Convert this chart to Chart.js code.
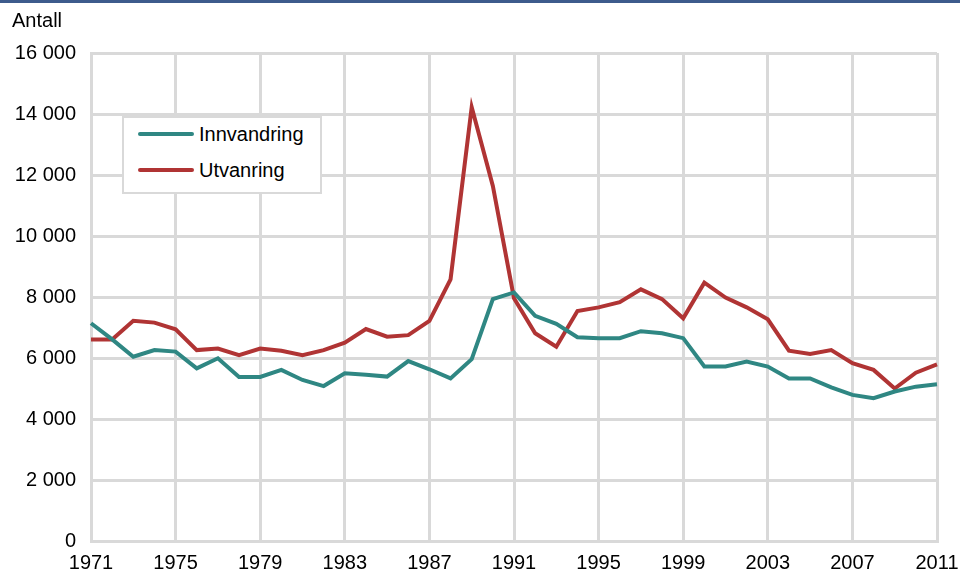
<!DOCTYPE html>
<html>
<head>
<meta charset="utf-8">
<script src="https://cdn.jsdelivr.net/npm/chart.js@4"></script>
<style>
  html, body { margin: 0; padding: 0; background: #fff; }
  #wrap { position: relative; width: 960px; height: 575px; }
  #legend {
    position: absolute; left: 122px; top: 116px; width: 196px; height: 74px;
    border: 2px solid #d9d9d9; background: #fff;
    font-family: "Liberation Sans", Arial, sans-serif; font-size: 20px; color: #000;
  }
  .item { position: absolute; left: 14px; height: 24px; display: flex; align-items: center; }
  .swatch { width: 56px; height: 4px; border-radius: 2px; margin-right: 5px; }
</style>
</head>
<body>
<div id="wrap">
  <canvas id="chartCanvas" width="960" height="575"></canvas>
  <div id="legend">
    <div class="item" style="top:4px"><span class="swatch" style="background:#2f8783"></span>Innvandring</div>
    <div class="item" style="top:40px"><span class="swatch" style="background:#b03434"></span>Utvanring</div>
  </div>
</div>
<script>
const years = [];
for (let y = 1971; y <= 2011; y++) years.push(String(y));

const innvandring = [
  7140, 6610, 6040, 6260, 6210, 5660, 5990, 5380, 5380, 5610,
  5280, 5080, 5500, 5450, 5390, 5900, 5630, 5330, 5960, 7930,
  8150, 7380, 7120, 6680, 6650, 6650, 6880, 6810, 6650, 5720,
  5720, 5880, 5720, 5330, 5330, 5040, 4790, 4680, 4900, 5060,
  5140
];

const utvandring = [
  6610, 6610, 7220, 7160, 6940, 6260, 6310, 6090, 6310, 6240,
  6090, 6260, 6500, 6950, 6700, 6750, 7220, 8580, 14220, 11640,
  7960, 6810, 6370, 7540, 7660, 7830, 8250, 7930, 7300, 8470,
  7980, 7660, 7270, 6240, 6130, 6260, 5830, 5610, 5000, 5520,
  5790
];

const yTicks = { min: 0, max: 16000, step: 2000 };

const gridColor = '#d9d9d9';
const font = { family: '"Liberation Sans", Arial, sans-serif', size: 20 };

const frame = {
    id: 'frame',
    beforeDraw(chart) {
        const ctx = chart.ctx;
        ctx.save();
        ctx.fillStyle = '#3d5b8c';
        ctx.fillRect(0, 0, chart.width, 3);
        ctx.fillStyle = '#000';
        ctx.font = '20px "Liberation Sans", Arial, sans-serif';
        ctx.textBaseline = 'middle';
        ctx.fillText('Antall', 12, 21);
        ctx.restore();
    }
};

new Chart(document.getElementById('chartCanvas'), {
    type: 'line',
    data: {
        labels: years,
        datasets: [
            { label: 'Innvandring', data: innvandring, borderColor: '#2f8783', borderWidth: 4, pointRadius: 0, tension: 0 },
            { label: 'Utvanring', data: utvandring, borderColor: '#b03434', borderWidth: 4, pointRadius: 0, tension: 0 }
        ]
    },
    options: {
        responsive: false,
        animation: false,
        layout: { padding: { top: 53, right: 23, bottom: 0, left: 0 } },
        plugins: { legend: { display: false }, tooltip: { enabled: false } },
        scales: {
            x: {
                offset: false,
                afterFit: (s) => { s.height = 34; s.paddingLeft = 0; s.paddingRight = 0; },
                grid: { color: gridColor, lineWidth: 3, tickLength: 0 },
                border: { color: gridColor, width: 3 },
                ticks: {
                    autoSkip: false, maxRotation: 0, padding: 10, color: '#000', font: font,
                    callback: (v, i) => (i % 4 === 0 ? years[i] : null)
                }
            },
            y: {
                min: yTicks.min, max: yTicks.max,
                afterFit: (s) => { s.width = 91; },
                grid: { color: gridColor, lineWidth: 3, tickLength: 0 },
                border: { color: gridColor, width: 3 },
                ticks: {
                    stepSize: yTicks.step, padding: 15, color: '#000', font: font,
                    callback: (v) => String(v).replace(/\B(?=(\d{3})+(?!\d))/g, ' ')
                }
            }
        }
    },
    plugins: [frame]
});
</script>
</body>
</html>
